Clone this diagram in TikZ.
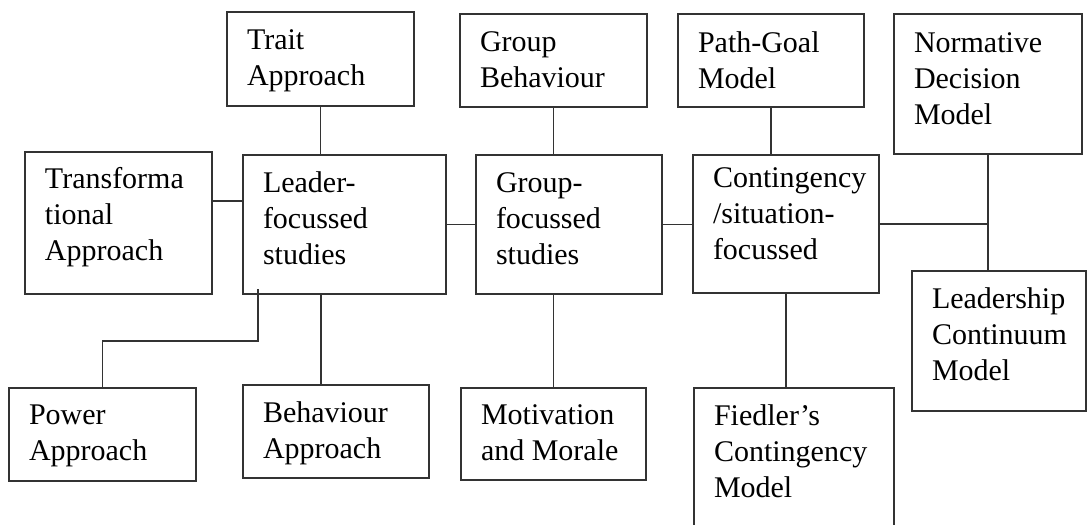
\documentclass[tikz,border=0pt]{standalone}
\usepackage{fontspec}
\setmainfont{Liberation Serif}
\usetikzlibrary{calc}

\tikzset{
  frame/.style={draw=black!80, line width=1.2pt, rectangle, inner sep=0pt, outer sep=0pt},
  lbl/.style={inner sep=0pt, outer sep=0pt, align=left, text=black,
              font=\fontsize{30}{36}\selectfont},
  link/.style={draw=black!80, line width=1.2pt}
}

% \ybox{name}{x1}{y1}{x2}{y2}{text}{first baseline below top}
% the strut is 25.2pt high at this size, so the node top sits 25.2pt above the first baseline
\newcommand{\ybox}[7]{%
  \node[frame, minimum width={#4-#2}, minimum height={#5-#3}, anchor=north west] (#1) at (#2,#3) {};
  \node[lbl, anchor=north west] (#1-t) at ([shift={(20,#7-25.2)}]#1.north west) {\strut #6};
}

\begin{document}
\begin{tikzpicture}[x=1pt, y=-1pt]
  \useasboundingbox (0,0) rectangle (1088,525);

  % top row
  \ybox{trait}{227}{12}{414}{106}{Trait\\Approach}{37}
  \ybox{gbeh}{460}{14}{647}{107}{Group\\Behaviour}{37}
  \ybox{path}{678}{14}{864}{107}{Path-Goal\\Model}{38}
  \ybox{norm}{894}{14}{1082}{154}{Normative\\Decision\\Model}{38}

  % middle row
  \ybox{trans}{25}{152}{212}{294}{Transforma\\tional\\Approach}{36}
  \ybox{leader}{243}{155}{446}{294}{Leader-\\focussed\\studies}{37}
  \ybox{group}{476}{155}{662}{294}{Group-\\focussed\\studies}{37}
  \ybox{cont}{693}{155}{879}{293}{Contingency\\/situation-\\focussed}{32}
  \ybox{lcm}{912}{271}{1086}{411}{Leadership\\Continuum\\Model}{37}

  % bottom row
  \ybox{power}{9}{388}{196}{481}{Power\\Approach}{36}
  \ybox{behav}{243}{385}{429}{478}{Behaviour\\Approach}{37}
  \ybox{motiv}{461}{388}{646}{480}{Motivation\\and Morale}{36}
  \ybox{fied}{694}{388}{894}{545}{Fiedler’s\\Contingency\\Model}{37}

  % helper points for off-centre joints
  \coordinate (transout) at ([shift={(0,49)}]trans.north east);
  \coordinate (leaddown) at ([shift={(78,0)}]leader.south west);
  \coordinate (pwstart) at ([shift={(15,-5)}]leader.south west);
  \coordinate (pwbend) at ([shift={(15,47)}]leader.south west);

  % connectors
  \draw[link] (trait.south) -- (trait.south |- leader.north);
  \draw[link] (gbeh.south) -- (gbeh.south |- group.north);
  \draw[link] (path.south) -- (path.south |- cont.north);
  \draw[link] (norm.south) -- (norm.south |- lcm.north);
  \draw[link] (cont.east) -- (cont.east -| norm.south);
  \draw[link] (transout) -- (transout -| leader.west);
  \draw[link] (leader.east) -- (leader.east -| group.west);
  \draw[link] (group.east) -- (group.east -| cont.west);
  \draw[link] (leaddown) -- (leaddown |- behav.north);
  \draw[link] (motiv.north) -- (motiv.north |- group.south);
  \draw[link] (cont.south) -- (cont.south |- fied.north);
  \draw[link] (pwstart) -- (pwbend) -| (power.north);
\end{tikzpicture}
\end{document}
